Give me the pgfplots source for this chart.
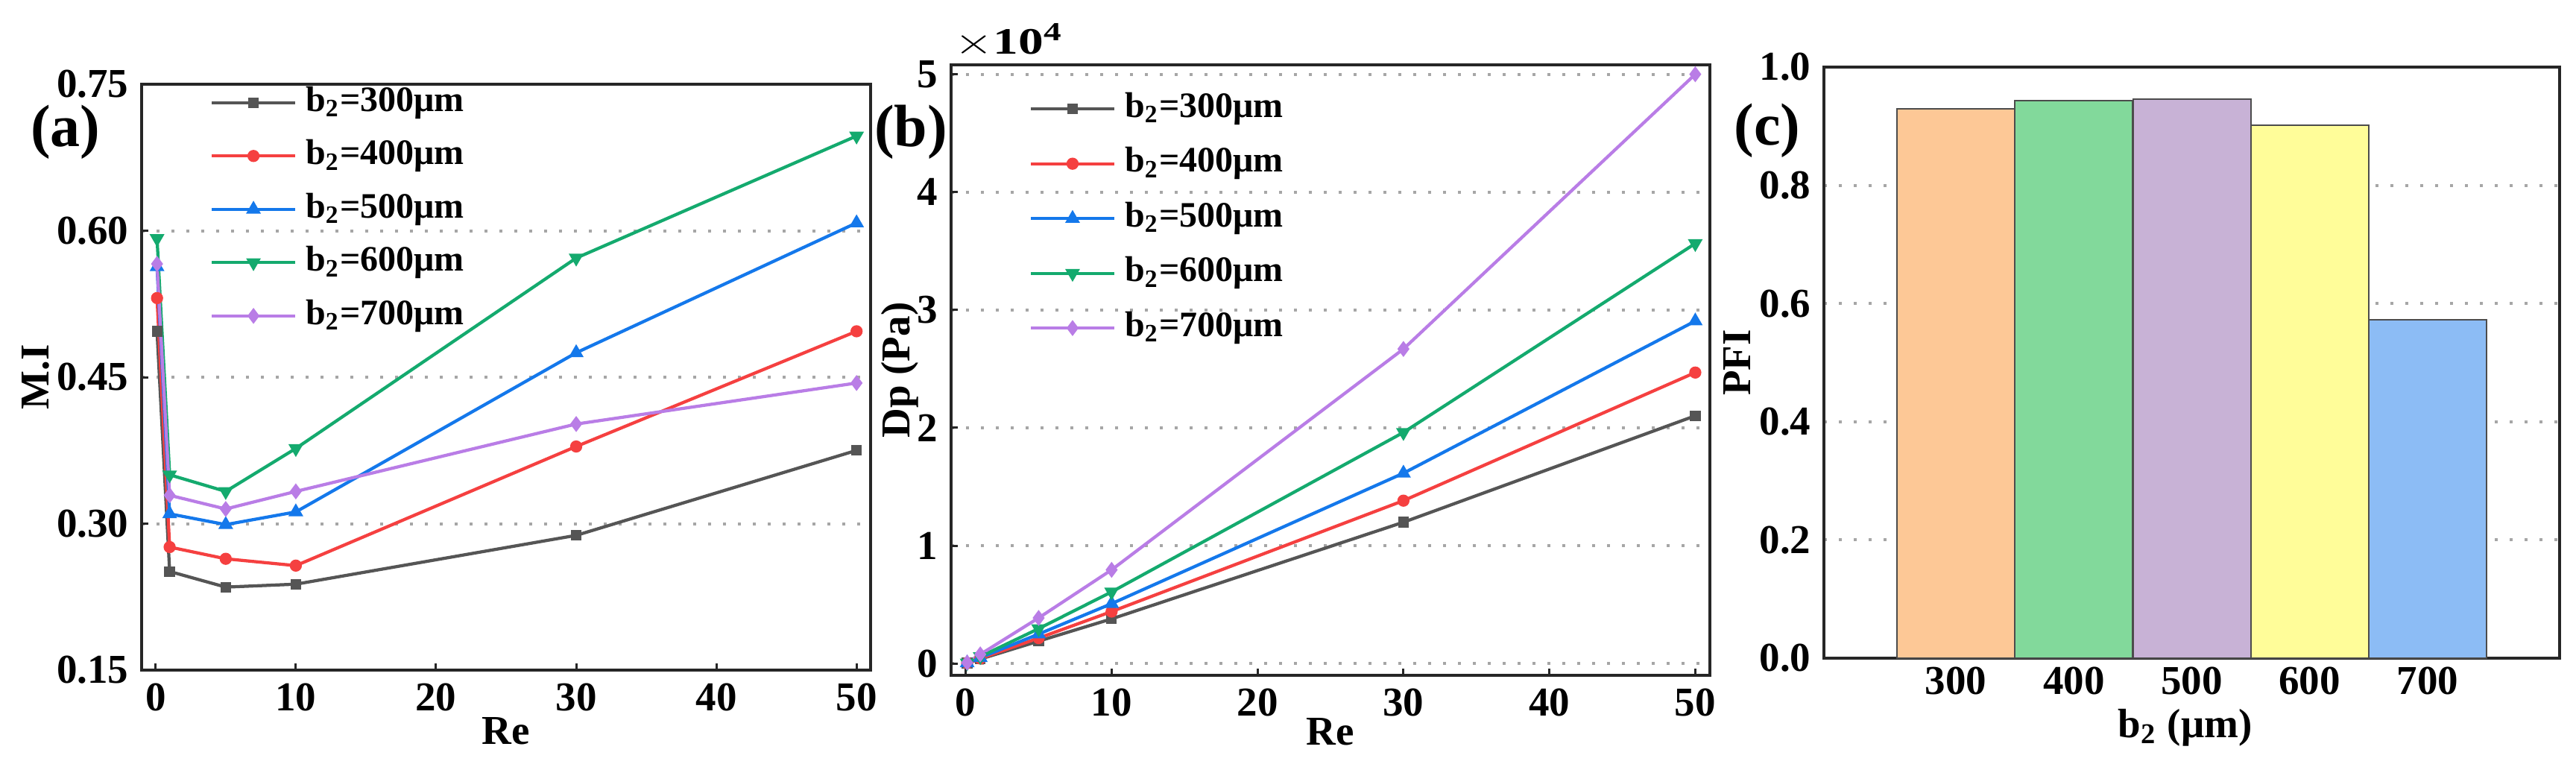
\documentclass[border=0pt]{standalone}
\usepackage{fontspec}
\setmainfont{Liberation Serif}
\usepackage{graphicx}
\usepackage{pgfplots}
\pgfplotsset{compat=1.18}

\definecolor{cgray}{RGB}{85,85,85}
\definecolor{cred}{RGB}{245,64,64}
\definecolor{cblue}{RGB}{20,120,235}
\definecolor{cgreen}{RGB}{20,170,110}
\definecolor{cpurple}{RGB}{185,125,230}
\definecolor{bA}{RGB}{253,200,150}
\definecolor{bB}{RGB}{130,217,155}
\definecolor{bC}{RGB}{200,178,214}
\definecolor{bD}{RGB}{255,253,153}
\definecolor{bE}{RGB}{140,188,245}

\pgfplotsset{
  mystyle/.style={
    scale only axis,
    axis line style={line width=0.9pt, black!85},
    tick style={line width=0.6pt, black!85},
    major tick length=1.8pt,
    xtick pos=bottom, ytick pos=left,
    tick align=inside,
    ymajorgrids,
    grid style={gray!70, line width=0.8pt, dash pattern=on 0.8pt off 3.2pt},
    tick label style={font=\fontsize{11}{13}\selectfont\bfseries},
    label style={font=\fontsize{11}{13}\selectfont\bfseries},
    /pgf/number format/assume math mode=true,
    legend cell align=left,
    legend style={draw=none, fill=none, inner sep=0pt,
      font=\fontsize{9.6}{11}\selectfont\bfseries,
      nodes={inner sep=0pt, text height=7pt, text depth=2.5pt},
      column sep=2.4pt},
    legend image code/.code={\draw[mark repeat=2,mark phase=2,##1] plot coordinates {(0pt,0pt) (11.2pt,0pt) (22.4pt,0pt)};},
  },
  s300/.style={cgray, line width=0.85pt, mark=square*, mark size=1.0pt, mark options={solid}},
  s400/.style={cred, line width=0.85pt, mark=*, mark size=1.2pt, mark options={solid}},
  s500/.style={cblue, line width=0.85pt, mark=triangle*, mark size=1.45pt, mark options={solid}},
  s600/.style={cgreen, line width=0.85pt, mark=triangle*, mark size=1.45pt, mark options={solid, rotate=180}},
  s700/.style={cpurple, line width=0.85pt, mark=diamond*, mark size=1.45pt, mark options={solid}},
}

\begin{document}
\begin{tikzpicture}
\useasboundingbox (0,0) rectangle (691.2pt,-205.8pt);

% ---------------- (a) ----------------
\begin{axis}[mystyle,
  at={(38pt,-179.8pt)}, anchor=south west,
  width=195.6pt, height=157.2pt,
  xmin=-1, xmax=51, ymin=0.15, ymax=0.75,
  xtick={0,10,20,30,40,50},
  ytick={0.15,0.30,0.45,0.60,0.75},
  yticklabel style={/pgf/number format/.cd, fixed, fixed zerofill, precision=2},
  xlabel={Re}, ylabel={M.I},
  xlabel style={at={(axis description cs:0.5,-0.127)}, anchor=base},
  ylabel style={at={(axis description cs:-0.1268,0.5)}, anchor=base},
  legend style={at={(axis description cs:0.093,1.0)}, anchor=north west, row sep=4.8pt},
]
\addplot[s300] coordinates {(0.1,0.497) (1,0.251) (5,0.235) (10,0.238) (30,0.288) (50,0.375)};
\addlegendentry{b\textsubscript{2}=300μm}
\addplot[s400] coordinates {(0.1,0.531) (1,0.276) (5,0.264) (10,0.257) (30,0.379) (50,0.497)};
\addlegendentry{b\textsubscript{2}=400μm}
\addplot[s500] coordinates {(0.1,0.563) (1,0.310) (5,0.299) (10,0.312) (30,0.475) (50,0.608)};
\addlegendentry{b\textsubscript{2}=500μm}
\addplot[s600] coordinates {(0.1,0.592) (1,0.350) (5,0.333) (10,0.377) (30,0.572) (50,0.697)};
\addlegendentry{b\textsubscript{2}=600μm}
\addplot[s700] coordinates {(0.1,0.566) (1,0.329) (5,0.315) (10,0.333) (30,0.402) (50,0.444)};
\addlegendentry{b\textsubscript{2}=700μm}
\end{axis}

% ---------------- (b) ----------------
\begin{axis}[mystyle,
  at={(255.2pt,-181.2pt)}, anchor=south west,
  width=203.6pt, height=163.8pt,
  xmin=-1, xmax=51, ymin=-1000, ymax=50800,
  xtick={0,10,20,30,40,50},
  ytick={0,10000,20000,30000,40000,50000},
  scaled y ticks=base 10:-4,
  ytick scale label code/.code={\scalebox{1.35}[1]{\fontsize{10}{12}\selectfont$\times$10\textsuperscript{#1}}},
  every y tick scale label/.style={at={(axis description cs:0,1)}, anchor=base west, inner sep=0pt, yshift=2.8pt, xshift=0.6pt},
  xlabel={Re}, ylabel={Dp (Pa)},
  xlabel style={at={(axis description cs:0.5,-0.1136)}, anchor=base},
  ylabel style={at={(axis description cs:-0.055,0.5)}, anchor=base},
  legend style={at={(axis description cs:0.102,0.958)}, anchor=north west, row sep=5.2pt},
]
\addplot[s300] coordinates {(0.1,38) (1,380) (5,1900) (10,3790) (30,11990) (50,21020)};
\addlegendentry{b\textsubscript{2}=300μm}
\addplot[s400] coordinates {(0.1,43) (1,430) (5,2160) (10,4410) (30,13820) (50,24690)};
\addlegendentry{b\textsubscript{2}=400μm}
\addplot[s500] coordinates {(0.1,50) (1,500) (5,2500) (10,5080) (30,16150) (50,29060)};
\addlegendentry{b\textsubscript{2}=500μm}
\addplot[s600] coordinates {(0.1,59) (1,590) (5,2960) (10,6080) (30,19610) (50,35640)};
\addlegendentry{b\textsubscript{2}=600μm}
\addplot[s700] coordinates {(0.1,78) (1,780) (5,3870) (10,7950) (30,26690) (50,50000)};
\addlegendentry{b\textsubscript{2}=700μm}
\end{axis}

% ---------------- (c) ----------------
\begin{axis}[mystyle,
  at={(489.4pt,-176.6pt)}, anchor=south west,
  width=197.4pt, height=158.6pt,
  xmin=188, xmax=812, ymin=0, ymax=1,
  xtick={300,400,500,600,700},
  ytick={0,0.2,0.4,0.6,0.8,1.0},
  major tick length=0pt,
  yticklabel style={/pgf/number format/.cd, fixed, fixed zerofill, precision=1},
  xticklabel style={yshift=1.2pt},
  xlabel={b\textsubscript{2} (μm)}, ylabel={PFI},
  xlabel style={at={(axis description cs:0.491,-0.134)}, anchor=base},
  ylabel style={at={(axis description cs:-0.1003,0.5)}, anchor=base},
]
\addplot[ybar, bar width=31.6pt, bar shift=0pt, fill=bA, draw=black!70, line width=0.4pt] coordinates {(300,0.930)};
\addplot[ybar, bar width=31.6pt, bar shift=0pt, fill=bB, draw=black!70, line width=0.4pt] coordinates {(400,0.943)};
\addplot[ybar, bar width=31.6pt, bar shift=0pt, fill=bC, draw=black!70, line width=0.4pt] coordinates {(500,0.946)};
\addplot[ybar, bar width=31.6pt, bar shift=0pt, fill=bD, draw=black!70, line width=0.4pt] coordinates {(600,0.902)};
\addplot[ybar, bar width=31.6pt, bar shift=0pt, fill=bE, draw=black!70, line width=0.4pt] coordinates {(700,0.573)};
\end{axis}

\node[inner sep=0pt, font=\fontsize{16}{18}\selectfont\bfseries] at (17.6pt,-35.4pt) {(a)};
\node[inner sep=0pt, font=\fontsize{16}{18}\selectfont\bfseries] at (244.4pt,-35.4pt) {(b)};
\node[inner sep=0pt, font=\fontsize{16}{18}\selectfont\bfseries] at (474.2pt,-35.0pt) {(c)};
\end{tikzpicture}
\end{document}
